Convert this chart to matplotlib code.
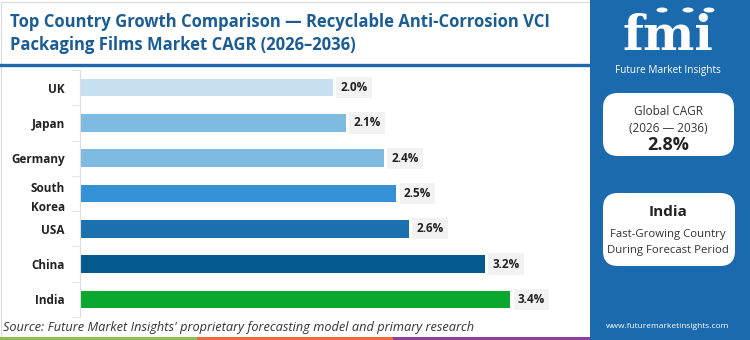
import matplotlib.pyplot as plt
from matplotlib.patches import Rectangle, FancyBboxPatch, Circle

countries = ['UK', 'Japan', 'Germany', 'South\nKorea', 'USA', 'China', 'India']
cagr = [2.0, 2.1, 2.4, 2.5, 2.6, 3.2, 3.4]
bar_colors = ['#c6e0f2', '#7fbae0', '#7fbae0', '#3391d4', '#1c70ad', '#045a8d', '#0aa82f']
global_cagr = '2.8%'
top_country = 'India'

W, H = 750, 340
fig = plt.figure(figsize=(7.5, 3.4), dpi=100)
fig.patch.set_facecolor('white')
plt.rcParams['font.family'] = ['Open Sans', 'DejaVu Sans']

def px(x, y):
    return x / W, 1 - y / H

# border round the chart area
fig.patches.append(Rectangle((0.5 / W, 0.5 / H), 589 / W, 338 / H, transform=fig.transFigure,
                             fill=False, edgecolor='#d9d9d9', lw=0.8))

# title
fig.text(*px(10, 22), 'Top Country Growth Comparison — Recyclable Anti-Corrosion VCI',
         fontsize=12, fontweight='bold', color='#1a5d95', va='center')
fig.text(*px(10, 45), 'Packaging Films Market CAGR (2026–2036)',
         fontsize=12, fontweight='bold', color='#1a5d95', va='center')
fig.lines.append(plt.Line2D([0, 590 / W], [1 - 64.5 / H] * 2, transform=fig.transFigure,
                            color='#1a6aad', lw=2.4))

# bars
ax = fig.add_axes([80 / W, 23 / H, 510 / W, 247 / H])
y = list(range(len(countries)))
ax.barh(y, cagr, height=0.5, color=bar_colors)
ax.set_xlim(0, 510 / 126.5)
ax.set_ylim(len(countries) - 0.5, -0.5)
for i, v in enumerate(cagr):
    ax.text(v + 0.06, i, f'{v:.1f}%', va='center', ha='left', fontsize=8.5,
            fontweight='bold', color='#222222',
            bbox=dict(boxstyle='square,pad=0.35', facecolor='#f2f2f2', edgecolor='none'))
ax.set_yticks(y)
ax.set_yticklabels(countries, fontsize=8.5, fontweight='bold', color='#222222',
                   linespacing=1.6)
ax.set_yticks([i - 0.5 for i in range(len(countries) + 1)], minor=True)
ax.tick_params(axis='y', which='major', length=0, pad=11)
ax.tick_params(axis='y', which='minor', length=6, color='#dddddd')
ax.set_xticks([])
for s in ['top', 'right', 'bottom']:
    ax.spines[s].set_visible(False)
ax.spines['left'].set_color('#dddddd')
ax.patch.set_alpha(0)

# source note and colour strip
fig.text(*px(3, 328), "Source: Future Market Insights' proprietary forecasting model and primary research",
         fontsize=9.2, style='italic', color='#333333', va='center')
for x0, c in [(0, '#8cc152'), (197, '#f26a3c'), (393, '#8e3fa0')]:
    fig.patches.append(Rectangle((x0 / W, 0), 197 / W, 3 / H, transform=fig.transFigure,
                                 facecolor=c, edgecolor='none'))

# side panel
fig.patches.append(Rectangle((590 / W, 0), 160 / W, 1, transform=fig.transFigure,
                             facecolor='#1a6aad', edgecolor='none'))
fig.text(*px(668, 37), 'fmi', fontsize=35, fontweight='bold', family='DejaVu Serif',
         color='white', ha='center', va='center')
for cx in (662, 688, 709):
    fig.patches.append(Circle(px(cx, 10), 5.5 / W, transform=fig.transFigure,
                              facecolor='white', edgecolor='none'))
fig.text(*px(668, 70), 'Future Market Insights', fontsize=7.2, color='white',
         ha='center', va='center')

for (x0, y0, w, h) in [(603, 93, 131, 63), (603, 193, 132, 73)]:
    fig.patches.append(FancyBboxPatch((x0 / W, 1 - (y0 + h) / H), w / W, h / H,
                                      boxstyle='round,pad=0,rounding_size=0.02',
                                      transform=fig.transFigure, facecolor='white',
                                      edgecolor='none', mutation_aspect=W / H))
fig.text(*px(668, 112), 'Global CAGR', fontsize=8.5, color='#333333', ha='center', va='center')
fig.text(*px(668, 128), '(2026 — 2036)', fontsize=8.5, color='#333333', ha='center', va='center')
fig.text(*px(668, 145), global_cagr, fontsize=13, fontweight='bold', color='#222222',
         ha='center', va='center')
fig.text(*px(668, 212), top_country, fontsize=11, fontweight='bold', color='#222222',
         ha='center', va='center')
fig.text(*px(668, 234), 'Fast-Growing Country', fontsize=8.2, color='#333333',
         ha='center', va='center')
fig.text(*px(668, 250), 'During Forecast Period', fontsize=8.2, color='#333333',
         ha='center', va='center')
fig.text(*px(668, 327), 'www.futuremarketinsights.com', fontsize=6, color='white',
         ha='center', va='center')

fig.savefig('out.png', dpi=100)
